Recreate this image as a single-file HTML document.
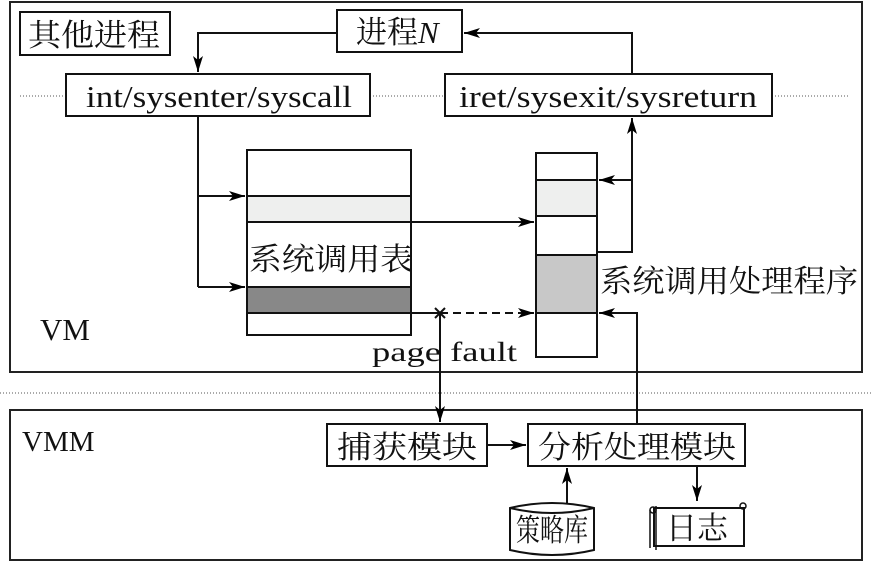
<!DOCTYPE html>
<html><head><meta charset="utf-8"><style>
body{margin:0;background:#fff}
svg{display:block}
text{font-family:"Liberation Serif","Noto Serif CJK SC","Noto Sans CJK SC",serif;fill:#111}
</style></head><body>
<svg width="871" height="565" viewBox="0 0 871 565" xmlns="http://www.w3.org/2000/svg">
<defs>
<marker id="a" markerWidth="16" markerHeight="10" refX="16" refY="5" orient="auto" markerUnits="userSpaceOnUse"><path d="M0,0 L16,5 L0,10 L4,5 Z" fill="#000"/></marker>
</defs>
<g stroke="#222" stroke-width="2" fill="none">
<rect x="10" y="2" width="852" height="370"/>
<rect x="10" y="410" width="852" height="150"/>
</g>
<g stroke="#555" stroke-width="1" stroke-dasharray="1,2">
<line x1="0" y1="393" x2="871" y2="393"/>
<line x1="20" y1="96" x2="66" y2="96"/>
<line x1="370" y1="96" x2="445" y2="96"/>
<line x1="772" y1="96" x2="850" y2="96"/>
</g>
<g stroke="#111" stroke-width="2" fill="#fff">
<rect x="20" y="12" width="150" height="43"/>
<rect x="337" y="10" width="125" height="42"/>
<rect x="66" y="74" width="304" height="42"/>
<rect x="445" y="74" width="327" height="42"/>
<rect x="247" y="150" width="164" height="185"/>
<rect x="247" y="196" width="164" height="26" fill="#eeefee"/>
<rect x="247" y="287" width="164" height="26" fill="#888"/>
<rect x="536" y="153" width="61" height="204"/>
<rect x="536" y="180" width="61" height="36" fill="#eeefee"/>
<rect x="536" y="255" width="61" height="58" fill="#c8c8c8"/>
<rect x="327" y="424" width="160" height="42"/>
<rect x="528" y="424" width="217" height="42"/>
</g>
<g stroke="#111" stroke-width="2" fill="none">
<polyline points="337,33 198,33 198,72" marker-end="url(#a)"/>
<polyline points="632,74 632,33 464,33" marker-end="url(#a)"/>
<line x1="198" y1="116" x2="198" y2="287"/>
<line x1="198" y1="196" x2="245" y2="196" marker-end="url(#a)"/>
<line x1="198" y1="287" x2="245" y2="287" marker-end="url(#a)"/>
<line x1="411" y1="222" x2="534" y2="222" marker-end="url(#a)"/>
<polyline points="597,252 632,252 632,118" marker-end="url(#a)"/>
<line x1="632" y1="180" x2="599" y2="180" marker-end="url(#a)"/>
<line x1="411" y1="313" x2="440" y2="313"/>
<line x1="440" y1="313" x2="534" y2="313" stroke-dasharray="8,5" marker-end="url(#a)"/>
<line x1="440" y1="313" x2="440" y2="422" marker-end="url(#a)"/>
<polyline points="637,424 637,313 599,313" marker-end="url(#a)"/>
<line x1="487" y1="445" x2="526" y2="445" marker-end="url(#a)"/>
<line x1="567" y1="503" x2="567" y2="468" marker-end="url(#a)"/>
<line x1="697" y1="466" x2="697" y2="501" marker-end="url(#a)"/>
<path d="M435,308 L445,318 M445,308 L435,318"/>
<path d="M510,508 Q552,498 594,508 L594,550 Q552,560 510,550 Z" fill="#fff"/>
<path d="M510,508 Q552,518 594,508"/>
<path d="M654,508 L744,508 L744,546 L654,546 Z" fill="#fff"/>
<path d="M650,510 L650,548 M656,506 L656,550" stroke-width="1.5"/>
<circle cx="743" cy="506" r="3" stroke-width="1.5"/>
<circle cx="653" cy="510" r="3" stroke-width="1.5"/>
</g>
<g font-size="31">
<text x="28" y="46" textLength="132" lengthAdjust="spacingAndGlyphs">其他进程</text>
<text x="356" y="43">进程<tspan font-style="italic">N</tspan></text>
<text x="86" y="107" textLength="266" lengthAdjust="spacingAndGlyphs">int/sysenter/syscall</text>
<text x="459" y="107" textLength="298" lengthAdjust="spacingAndGlyphs">iret/sysexit/sysreturn</text>
<text x="249" y="270" textLength="164" lengthAdjust="spacingAndGlyphs">系统调用表</text>
<text x="600" y="292" textLength="258" lengthAdjust="spacingAndGlyphs">系统调用处理程序</text>
<text x="40" y="340">VM</text>
<text x="372" y="361" font-size="27" textLength="145" lengthAdjust="spacingAndGlyphs">page  fault</text>
<text x="22" y="451" font-size="29">VMM</text>
<text x="337" y="458" textLength="140" lengthAdjust="spacingAndGlyphs">捕获模块</text>
<text x="538" y="458" textLength="198" lengthAdjust="spacingAndGlyphs">分析处理模块</text>
<text x="516" y="541" textLength="72" lengthAdjust="spacingAndGlyphs">策略库</text>
<text x="666" y="539" textLength="62" lengthAdjust="spacingAndGlyphs">日志</text>
</g>
</svg>
</body></html>
